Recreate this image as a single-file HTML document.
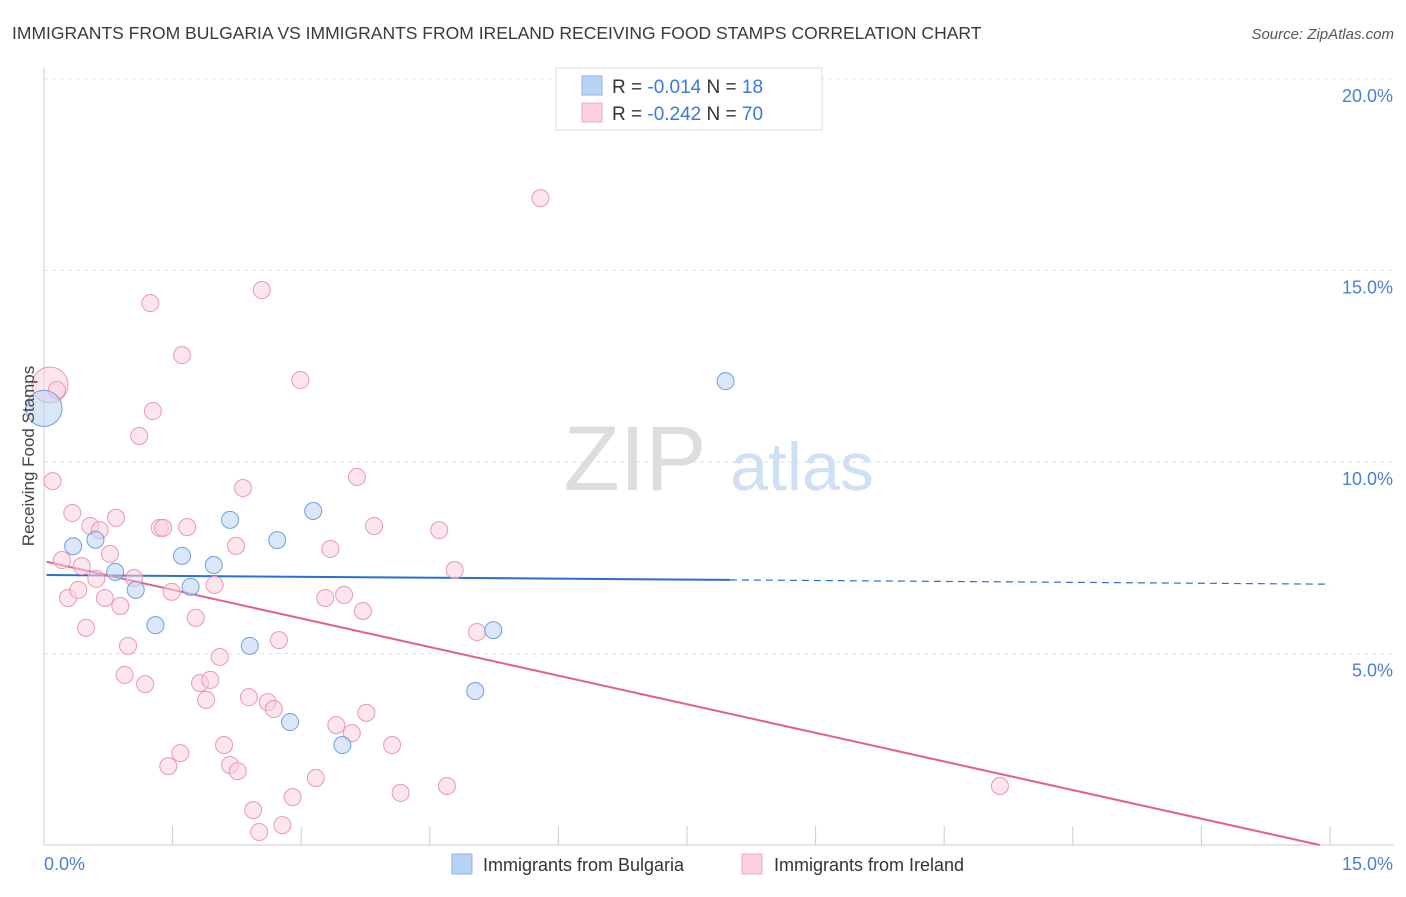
<!DOCTYPE html>
<html><head><meta charset="utf-8">
<style>
body{margin:0;background:#fff;font-family:"Liberation Sans",sans-serif;}
svg text{font-family:"Liberation Sans",sans-serif;}
</style></head>
<body>
<svg id="chart" width="1406" height="892" viewBox="0 0 1406 892" xmlns="http://www.w3.org/2000/svg">
<text x="12" y="39" font-size="17.5" fill="#3a3a3a">IMMIGRANTS FROM BULGARIA VS IMMIGRANTS FROM IRELAND RECEIVING FOOD STAMPS CORRELATION CHART</text>
<text x="1394" y="39" font-size="15" fill="#555" font-style="italic" text-anchor="end">Source: ZipAtlas.com</text>
<g id="grid"></g>
<g>
<text x="635" y="490" font-size="92" fill="#ddd" font-family="Liberation Serif" text-anchor="middle">ZIP</text>
<text x="802" y="490" font-size="68" fill="#cfe0f3" text-anchor="middle">atlas</text>
</g>
<g id="trend"></g>
<g id="points"></g>
<text transform="translate(34,456) rotate(-90)" font-size="17" fill="#444" text-anchor="middle">Receiving Food Stamps</text>
<g>
<rect x="556" y="68" width="266" height="62" fill="#fff" stroke="#ddd"/>
<rect x="582" y="76" width="20" height="19" fill="#b9d3f5" stroke="#8fb3e3"/>
<rect x="582" y="103" width="20" height="19" fill="#fbd0dc" stroke="#eeadc0"/>
<text x="612" y="93" font-size="19" fill="#333">R = <tspan fill="#3c78d8">-0.014</tspan>   N =  <tspan fill="#3c78d8">18</tspan></text>
<text x="612" y="120" font-size="19" fill="#333">R = <tspan fill="#3c78d8">-0.242</tspan>   N = <tspan fill="#3c78d8">70</tspan></text>
</g>
<g>
<rect x="452" y="854" width="20" height="20" fill="#b9d3f5" stroke="#8fb3e3"/>
<text x="483" y="871" font-size="18" fill="#333">Immigrants from Bulgaria</text>
<rect x="742" y="854" width="20" height="20" fill="#fbd0dc" stroke="#eeadc0"/>
<text x="774" y="871" font-size="18" fill="#333">Immigrants from Ireland</text>
</g>
</svg>
<script>
const yTicks=[5,10,15,20];
const yTickLabels=["5.0%","10.0%","15.0%","20.0%"];
const xTickLabels=["0.0%","15.0%"];
const bulX=[0,0.34,0.6,0.83,1.07,1.3,1.61,1.71,1.98,2.17,2.4,2.72,2.87,3.14,3.48,5.03,5.24,7.95];
const bulY=[11.4,7.8,7.97,7.13,6.66,5.74,7.55,6.74,7.31,8.49,5.2,7.96,3.21,8.72,2.61,4.02,5.61,12.11];
const ireX=[0.07,0.15,0.10,0.33,0.21,0.28,0.40,0.44,0.49,0.61,0.54,0.65,0.77,0.84,0.71,0.89,1.05,0.98,0.94,1.18,1.11,1.24,1.27,1.35,1.39,1.49,1.45,1.59,1.61,1.67,1.77,1.82,1.89,1.94,1.99,2.05,2.10,2.17,2.26,2.24,2.32,2.39,2.44,2.51,2.54,2.61,2.68,2.74,2.78,2.90,2.99,3.17,3.28,3.34,3.41,3.50,3.59,3.65,3.72,3.76,3.85,4.06,4.16,4.61,4.70,4.79,5.05,5.79,11.15];
const ireY=[12.01,11.88,9.50,8.67,7.44,6.45,6.66,7.28,5.67,6.95,8.33,8.22,7.60,8.54,6.45,6.24,6.97,5.20,4.44,4.20,10.68,14.15,11.33,8.28,8.28,6.61,2.06,2.40,12.79,8.30,5.93,4.23,3.79,4.31,6.79,4.91,2.61,2.09,1.93,7.81,9.32,3.86,0.91,0.34,14.49,3.73,3.55,5.35,0.52,1.25,12.14,1.75,6.45,7.73,3.13,6.53,2.92,9.61,6.11,3.45,8.33,2.61,1.36,8.22,1.54,7.18,5.56,16.89,1.54];
const bulTrend=[7.05,-0.016]; // intercept, slope
const ireTrend=[7.41,-0.498];

const NS="http://www.w3.org/2000/svg";
const X=v=>44+v*(1286/15);
const Y=v=>845-v*38.3;
function mk(tag,attrs,parent){const e=document.createElementNS(NS,tag);for(const k in attrs)e.setAttribute(k,attrs[k]);document.getElementById(parent).appendChild(e);return e;}
yTicks.forEach((t,i)=>{
  const l=mk('line',{x1:44,x2:1394,y1:Y(t),y2:Y(t),stroke:'#e2e2e2','stroke-dasharray':'4,4'},'grid');
  
  
  const tx=mk('text',{x:1393,y:Y(t)+23,'font-size':18,fill:'#4a7fd1','text-anchor':'end'},'grid');
  tx.textContent=yTickLabels[i];
  
  
});
const ax=mk('line',{x1:44,x2:44,y1:68,y2:845,stroke:'#ccc'},'grid');


const bx=mk('line',{x1:44,x2:1394,y1:845,y2:845,stroke:'#ccc'},'grid');


for(let i=0;i<=10;i++){
  const t=mk('line',{x1:X(i*1.5),x2:X(i*1.5),y1:826,y2:845,stroke:'#ccc'},'grid');
  
  
}
[[0,68,'start'],[15,1393,'end']].forEach((d,i)=>{
  const tx=mk('text',{x:i?1393:44,y:870,'font-size':18,fill:'#4a7fd1','text-anchor':d[2]},'grid');
  tx.textContent=xTickLabels[i];
  
  
});
function pts(xs,ys,fill,stroke,name){
  xs.forEach((x,i)=>{
    const big=(x===0||(name==='ireland-point'&&i<2));
    const c=mk('circle',{cx:X(x)+(x===0?0:0),cy:Y(ys[i]),r:(i===0?18:8.5),fill:fill,'fill-opacity':0.55,stroke:stroke,'stroke-width':1},'points');
    
    
  });
}
pts(ireX,ireY,'#fbd0dc','#e899b2','ireland-point');
pts(bulX,bulY,'#bcd4f4','#6f9fdc','bulgaria-point');
const f=(t,x)=>t[0]+t[1]*x;
let l1=mk('line',{x1:X(0.03),y1:Y(f(bulTrend,0.03)),x2:X(8),y2:Y(f(bulTrend,8)),stroke:'#2a6fd6','stroke-width':2},'trend');


let l2=mk('line',{x1:X(8),y1:Y(f(bulTrend,8)),x2:X(15),y2:Y(f(bulTrend,15)),stroke:'#2a6fd6','stroke-width':1.2,'stroke-dasharray':'7,5'},'trend');


const xe=Math.min(15,-ireTrend[0]/ireTrend[1]);
let l3=mk('line',{x1:X(0.03),y1:Y(f(ireTrend,0.03)),x2:X(xe),y2:Y(f(ireTrend,xe)),stroke:'#e0608e','stroke-width':2},'trend');


</script>
</body></html>
